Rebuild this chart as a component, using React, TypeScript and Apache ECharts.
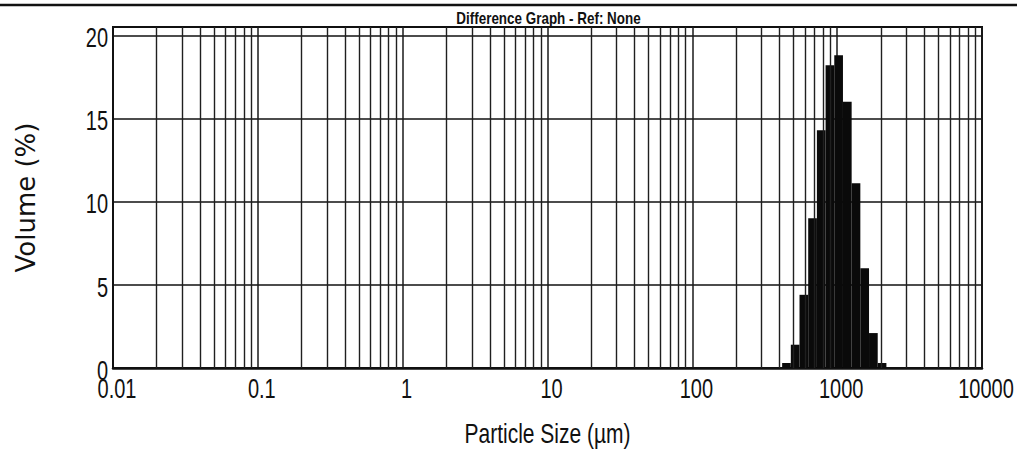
import React, { useEffect, useRef } from "react";
import * as echarts from "echarts";

// Particle size distribution (volume %) per size class, size classes in µm
const binEdges = [416.9, 478.6, 549.5, 631.0, 724.4, 831.8, 955.0, 1096.5, 1258.9, 1445.4, 1659.6, 1905.5, 2187.8];
const volumePct = [0.3, 1.4, 4.4, 9.0, 14.3, 18.2, 18.8, 16.0, 11.1, 6.0, 2.1, 0.3];

const xTickValues = [0.01, 0.1, 1, 10, 100, 1000, 10000];
const xTickLabels = ["0.01", "0.1", "1", "10", "100", "1000", "10000"];
const yTickValues = [0, 5, 10, 15, 20];
const yTickLabels = ["0", "5", "10", "15", "20"];

// Log grid: every 2..9 multiple of each decade
const decades = [0.01, 0.1, 1, 10, 100, 1000];
const gridMultipliers = [2, 3, 4, 5, 6, 7, 8, 9];

const SANS = '"Liberation Sans", Arial, sans-serif';

// Condensed-looking text: regular sans, stretched vertically
function tallText(text: string, x: number, y: number, align: string, size: number, sy: number, sx = 1, weight = "normal") {
  return {
    type: "text",
    x,
    y,
    scaleX: sx,
    scaleY: sy,
    silent: true,
    z: 10,
    style: {
      text,
      fontFamily: SANS,
      fontSize: size,
      fontWeight: weight,
      fill: "#111",
      align,
      textAlign: align,
      verticalAlign: "middle",
      textVerticalAlign: "middle",
    },
  };
}

export default function App() {
  const ref = useRef<HTMLDivElement>(null);

  useEffect(() => {
    document.body.style.margin = "0";
    const chart = echarts.init(ref.current!, null, { renderer: "svg" });

    const bins = volumePct.map((v, i) => [binEdges[i], binEdges[i + 1], v]);
    const minorLines: { xAxis: number }[] = [];
    decades.forEach((d) => gridMultipliers.forEach((m) => minorLines.push({ xAxis: +(d * m).toPrecision(3) })));

    chart.setOption({
      animation: false,
      backgroundColor: "#ffffff",
      grid: {
        left: 113,
        right: 35,
        top: 27,
        bottom: 82,
        show: true,
        borderColor: "#111",
        borderWidth: 2,
        backgroundColor: "transparent",
      },
      xAxis: {
        type: "log",
        logBase: 10,
        min: 0.01,
        max: 10000,
        interval: 1,
        axisLine: { show: true, lineStyle: { color: "#111", width: 2.5 } },
        axisTick: { show: false },
        axisLabel: { show: false },
        splitLine: { show: true, lineStyle: { color: "#1a1a1a", width: 1.5 } },
      },
      yAxis: {
        type: "value",
        min: 0,
        max: 20.5,
        interval: 5,
        name: "Volume (%)",
        nameLocation: "middle",
        nameGap: 74,
        nameRotate: 90,
        nameTextStyle: { fontFamily: '"DejaVu Sans", Verdana, sans-serif', fontSize: 26, color: "#111" },
        axisLine: { show: true, lineStyle: { color: "#111", width: 2 } },
        axisTick: { show: false },
        axisLabel: { show: false },
        splitLine: { show: true, lineStyle: { color: "#111", width: 1.6 } },
      },
      series: [
        {
          type: "custom",
          data: bins,
          encode: { x: [0, 1], y: 2 },
          renderItem: (_params: any, api: any) => {
            const lo = api.value(0);
            const hi = api.value(1);
            const v = api.value(2);
            const p0 = api.coord([lo, v]);
            const p1 = api.coord([hi, 0]);
            return {
              type: "rect",
              shape: { x: p0[0], y: p0[1], width: p1[0] - p0[0], height: p1[1] - p0[1] },
              style: { fill: "#0a0a0a" },
            };
          },
          markLine: {
            silent: true,
            symbol: "none",
            label: { show: false },
            lineStyle: { color: "#1f1f1f", width: 1.4, type: "solid" },
            data: minorLines,
          },
          z: 3,
        },
      ],
    });

    // Tick labels, title and axis name placed from the axis scales
    const xOf = (v: number) => chart.convertToPixel({ xAxisIndex: 0 }, v) as number;
    const yOf = (v: number) => chart.convertToPixel({ yAxisIndex: 0 }, v) as number;
    const left = xOf(0.01);
    const right = xOf(10000);
    const bottom = yOf(0);

    const texts: any[] = [];
    xTickValues.forEach((v, i) => texts.push(tallText(xTickLabels[i], xOf(v) + 4, bottom + 20, "center", 20, 1.4)));
    yTickValues.forEach((v, i) => texts.push(tallText(yTickLabels[i], left - 5, yOf(v) + 2, "right", 20, 1.4)));
    texts.push(tallText("Particle Size (µm)", (left + right) / 2, bottom + 65, "center", 21, 1.3));
    texts.push(tallText("Difference Graph - Ref: None", (left + right) / 2 + 1, 19, "center", 16, 1.0, 0.84, "bold"));

    chart.setOption({
      graphic: [
        {
          type: "line",
          shape: { x1: 0, y1: 5, x2: 1017, y2: 5 },
          style: { stroke: "#111", lineWidth: 2.5 },
        },
        ...texts,
      ],
    });

    return () => chart.dispose();
  }, []);

  return (
    <div
      ref={ref}
      style={{ position: "absolute", left: 0, top: 0, width: 1017, height: 450, background: "#fff" }}
    />
  );
}
